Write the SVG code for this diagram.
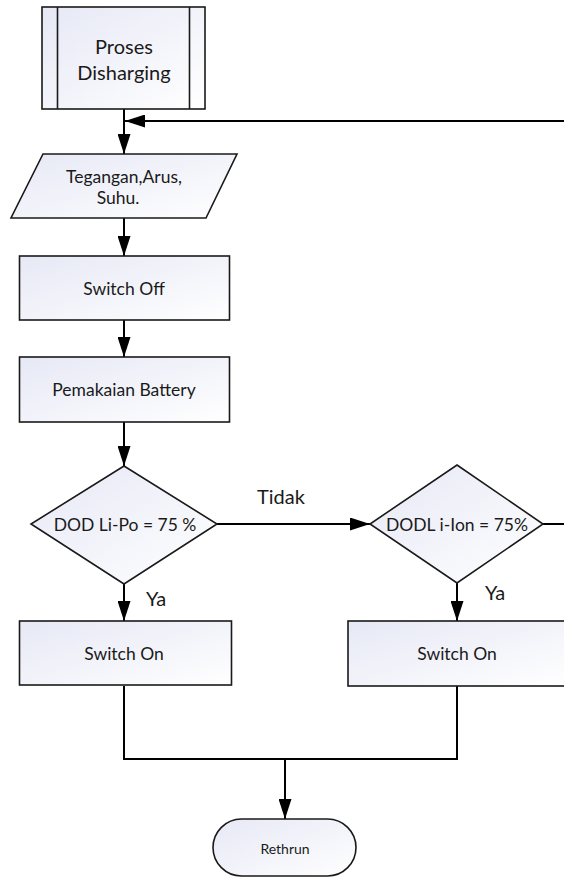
<svg xmlns="http://www.w3.org/2000/svg" width="564" height="878" viewBox="0 0 564 878">
  <style>
    .shape { fill: url(#fillGrad); stroke: #1a1a1a; stroke-width: 1.6; }
    .divider { fill: none; stroke: #1a1a1a; stroke-width: 1.6; }
    .conn { fill: none; stroke: #000; stroke-width: 2; }
    .arrow { fill: none; stroke: #000; stroke-width: 2; marker-end: url(#head); }
    text { font-family: Lato, "Liberation Sans", sans-serif; fill: #1a1a1a; text-anchor: middle; }
    .big { font-size: 20px; }
    .mid { font-size: 17.5px; }
    .small { font-size: 14px; }
  </style>
  <defs>
    <linearGradient id="fillGrad" x1="0" y1="0" x2="1" y2="1">
      <stop offset="0" stop-color="#e6e8f5"/>
      <stop offset="1" stop-color="#ffffff"/>
    </linearGradient>
    <marker id="head" markerUnits="userSpaceOnUse" markerWidth="20" markerHeight="13" refX="20" refY="6.5" orient="auto">
      <path d="M0,0 L20,6.5 L0,13 Z" fill="#000"/>
    </marker>
  </defs>

  <!-- connectors -->
  <g id="connectors">
    <line class="arrow" x1="124" y1="109" x2="124" y2="154"/>
    <line class="arrow" x1="564" y1="121" x2="125" y2="121"/>
    <line class="arrow" x1="124" y1="218" x2="124" y2="256"/>
    <line class="arrow" x1="124" y1="320" x2="124" y2="357"/>
    <line class="arrow" x1="124" y1="422" x2="124" y2="466"/>
    <line class="arrow" x1="124" y1="584" x2="124" y2="621"/>
    <line class="arrow" x1="217" y1="524" x2="370" y2="524"/>
    <line class="arrow" x1="457" y1="583" x2="457" y2="621"/>
    <line class="conn" x1="543" y1="524" x2="564" y2="524"/>
    <polyline class="conn" points="124,686 124,759 457,759 457,686"/>
    <line class="arrow" x1="285" y1="759" x2="285" y2="819"/>
  </g>

  <!-- predefined process -->
  <g id="proses">
    <rect class="shape" x="42" y="7" width="163" height="102"/>
    <line class="divider" x1="57.5" y1="7" x2="57.5" y2="109"/>
    <line class="divider" x1="189.5" y1="7" x2="189.5" y2="109"/>
    <text class="big" x="124" y="54">Proses</text>
    <text class="big" x="124" y="80">Disharging</text>
  </g>

  <!-- input data -->
  <g id="input">
    <polygon class="shape" points="43,154 237,154 206,218 11,218"/>
    <text class="mid" x="124" y="183">Tegangan,Arus,</text>
    <text class="mid" x="118" y="204">Suhu.</text>
  </g>

  <g id="switch-off">
    <rect class="shape" x="19.5" y="256" width="210" height="64"/>
    <text class="mid" x="124" y="295">Switch Off</text>
  </g>

  <g id="pemakaian">
    <rect class="shape" x="19.5" y="357" width="210" height="65"/>
    <text class="mid" x="124" y="396">Pemakaian Battery</text>
  </g>

  <g id="cek-lipo">
    <polygon class="shape" points="124,466 217,524 124,584 31,524"/>
    <text class="mid" x="125" y="531">DOD Li-Po = 75 %</text>
  </g>

  <g id="cek-lion">
    <polygon class="shape" points="457,465 543,524 457,583 370,524"/>
    <text class="mid" x="457" y="531">DODL i-Ion = 75%</text>
  </g>

  <g id="switch-on-lipo">
    <rect class="shape" x="19.5" y="621" width="212" height="64"/>
    <text class="mid" x="124" y="660">Switch On</text>
  </g>

  <g id="switch-on-lion">
    <rect class="shape" x="348" y="621" width="218" height="65"/>
    <text class="mid" x="457" y="660">Switch On</text>
  </g>

  <g id="rethrun">
    <rect class="shape" x="213" y="819" width="143" height="57" rx="28.5" ry="28.5"/>
    <text class="small" x="285" y="854">Rethrun</text>
  </g>

  <!-- branch labels -->
  <g id="labels">
    <text class="big" x="281" y="504">Tidak</text>
    <text class="big" x="156" y="606">Ya</text>
    <text class="big" x="495" y="600">Ya</text>
  </g>
</svg>
